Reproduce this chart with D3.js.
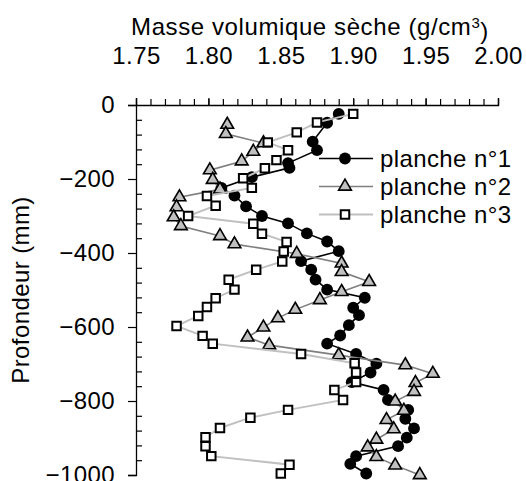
<!DOCTYPE html>
<html><head><meta charset="utf-8">
<script src="https://cdn.jsdelivr.net/npm/d3@7"></script>
<style>
html,body{margin:0;padding:0;background:#fff;}
text{font-family:"Liberation Sans",Arial,sans-serif;fill:#000;}
</style></head>
<body>
<svg id="c" width="526" height="481"></svg>
<script>
// ---- data ----
const xTicks = [1.75, 1.80, 1.85, 1.90, 1.95, 2.00];
const yTicks = [0, -200, -400, -600, -800, -1000];
const seriesNames = ["planche n°1", "planche n°2", "planche n°3"];

const p1Density = [1.890,1.882,1.872,1.875,1.855,1.856,1.830,1.809,1.818,1.826,1.837,1.855,1.868,1.882,1.890,1.864,1.871,1.874,1.882,1.908,1.900,1.904,1.897,1.891,1.882,1.902,1.916,1.912,1.899,1.921,1.924,1.938,1.936,1.942,1.937,1.931,1.902,1.898,1.909];
const p1Depth = [-24,-48,-99,-122,-157,-170,-195,-224,-245,-274,-300,-320,-347,-369,-395,-422,-445,-472,-499,-521,-548,-568,-595,-623,-645,-673,-699,-723,-749,-770,-797,-824,-848,-874,-899,-922,-949,-970,-996];

const p2Density = [1.813,1.812,1.838,1.831,1.823,1.801,1.803,1.808,1.780,1.778,1.776,1.781,1.808,1.818,1.861,1.892,1.892,1.911,1.892,1.877,1.860,1.848,1.838,1.827,1.842,1.890,1.936,1.955,1.943,1.942,1.929,1.935,1.923,1.928,1.916,1.910,1.916,1.929,1.946];
const p2Depth = [-53,-78,-103,-126,-152,-176,-202,-228,-249,-276,-303,-327,-354,-376,-402,-428,-451,-478,-505,-527,-553,-576,-601,-628,-649,-676,-703,-726,-751,-775,-801,-826,-851,-876,-904,-925,-951,-974,-1000];

const p3Density = [1.900,1.875,1.861,1.841,1.855,1.847,1.839,1.824,1.830,1.799,1.805,1.786,1.831,1.837,1.854,1.852,1.851,1.833,1.814,1.818,1.805,1.799,1.793,1.778,1.796,1.803,1.864,1.901,1.902,1.902,1.887,1.893,1.855,1.829,1.808,1.798,1.798,1.802,1.856,1.850];
const p3Depth = [-24,-47,-74,-101,-122,-149,-171,-198,-224,-246,-272,-300,-321,-348,-370,-396,-423,-445,-472,-499,-522,-546,-570,-597,-624,-645,-673,-698,-723,-749,-770,-797,-824,-845,-873,-898,-922,-949,-972,-996];

// ---- chart ----
const svg = d3.select("#c");
const x = d3.scaleLinear().domain([1.75, 2.00]).range([136, 498]);
const y = d3.scaleLinear().domain([0, -1000]).range([105, 475]);
const FS = 24;
const LS = "0.4px";
const FF = "Liberation Sans, Arial, sans-serif";

// title
const title = svg.append("text").attr("x", 310).attr("y", 35)
  .attr("text-anchor", "middle").style("font-size", "24px").style("letter-spacing", "0.6px");
title.append("tspan").text("Masse volumique sèche (g/cm");
title.append("tspan").attr("dy", "-0.45em").style("font-size", "15px").text("3");
title.append("tspan").attr("dy", "0.45em").text(")");

// top axis: minor ticks
const minorX = d3.range(0, 26).map(i => 1.75 + i * 0.01);
svg.append("g").attr("transform", "translate(0,105)")
  .call(d3.axisTop(x).tickValues(minorX).tickSize(6).tickFormat(""))
  .call(g => g.select(".domain").remove())
  .call(g => g.selectAll("line").attr("stroke", "#000").attr("stroke-width", 1.2));
// top axis: major labels
svg.append("g").attr("transform", "translate(0,105)")
  .call(d3.axisTop(x).tickValues(xTicks).tickSize(7).tickPadding(34).tickFormat(d3.format(".2f")))
  .call(g => g.select(".domain").attr("stroke", "#000").attr("stroke-width", 1.3))
  .call(g => g.selectAll("line").attr("stroke", "#000").attr("stroke-width", 1.2))
  .call(g => g.selectAll("text").style("font-size", FS + "px").style("letter-spacing", LS).style("font-family", FF).attr("fill", "#000"));

// left axis minor (inward)
const minorY = d3.range(0, 26).map(i => -i * 40).filter(v => v % 200 !== 0);
svg.append("g").attr("transform", "translate(136,0)")
  .call(d3.axisLeft(y).tickValues(minorY).tickSize(-6).tickFormat(""))
  .call(g => g.select(".domain").remove())
  .call(g => g.selectAll("line").attr("stroke", "#000").attr("stroke-width", 1.2));
svg.append("g").attr("transform", "translate(136,0)")
  .call(d3.axisLeft(y).tickValues(yTicks).tickSize(8).tickPadding(13).tickFormat(d3.format("d")))
  .call(g => g.select(".domain").attr("stroke", "#000").attr("stroke-width", 1.3))
  .call(g => g.selectAll("line").attr("stroke", "#000").attr("stroke-width", 1.2))
  .call(g => g.selectAll("text").style("font-size", FS + "px").style("letter-spacing", LS).style("font-family", FF).attr("fill", "#000"));

// y label
svg.append("text").attr("transform", "translate(21,290) rotate(-90)")
  .attr("text-anchor", "middle").attr("dy", "0.35em").style("font-size", FS + "px").style("letter-spacing", LS)
  .text("Profondeur (mm)");

const series = [
  {dens: p1Density, dep: p1Depth, line: "#000", lw: 1.6, sym: d3.symbolCircle, size: 110, fill: "#000", sw: 0},
  {dens: p2Density, dep: p2Depth, line: "#7f7f7f", lw: 1.6, sym: d3.symbolTriangle, size: 70, fill: "#c0c0c0", sw: 1.6},
  {dens: p3Density, dep: p3Depth, line: "#c0c0c0", lw: 2, sym: d3.symbolSquare, size: 72, fill: "#fff", sw: 2}
];

const line = d3.line().x(d => x(d[0])).y(d => y(d[1]));
series.forEach(s => {
  const pts = s.dens.map((v, i) => [v, s.dep[i]]);
  const g = svg.append("g");
  g.append("path").datum(pts).attr("d", line).attr("fill", "none")
    .attr("stroke", s.line).attr("stroke-width", s.lw);
  g.selectAll("path.m").data(pts).enter().append("path").attr("class", "m")
    .attr("transform", d => `translate(${x(d[0])},${y(d[1])})`)
    .attr("d", d3.symbol().type(s.sym).size(s.size))
    .attr("fill", s.fill).attr("stroke", "#000").attr("stroke-width", s.sw);
});

// legend
const lg = svg.append("g");
series.forEach((s, i) => {
  const yy = 158.5 + i * 28;
  lg.append("line").attr("x1", 319).attr("x2", 373).attr("y1", yy).attr("y2", yy)
    .attr("stroke", s.line).attr("stroke-width", s.lw);
  lg.append("path").attr("transform", `translate(345,${yy})`)
    .attr("d", d3.symbol().type(s.sym).size(s.size))
    .attr("fill", s.fill).attr("stroke", "#000").attr("stroke-width", s.sw);
  lg.append("text").attr("x", 380).attr("y", yy).attr("dy", "0.35em")
    .style("font-size", FS + "px").style("letter-spacing", LS).text(seriesNames[i]);
});
</script>
</body></html>
